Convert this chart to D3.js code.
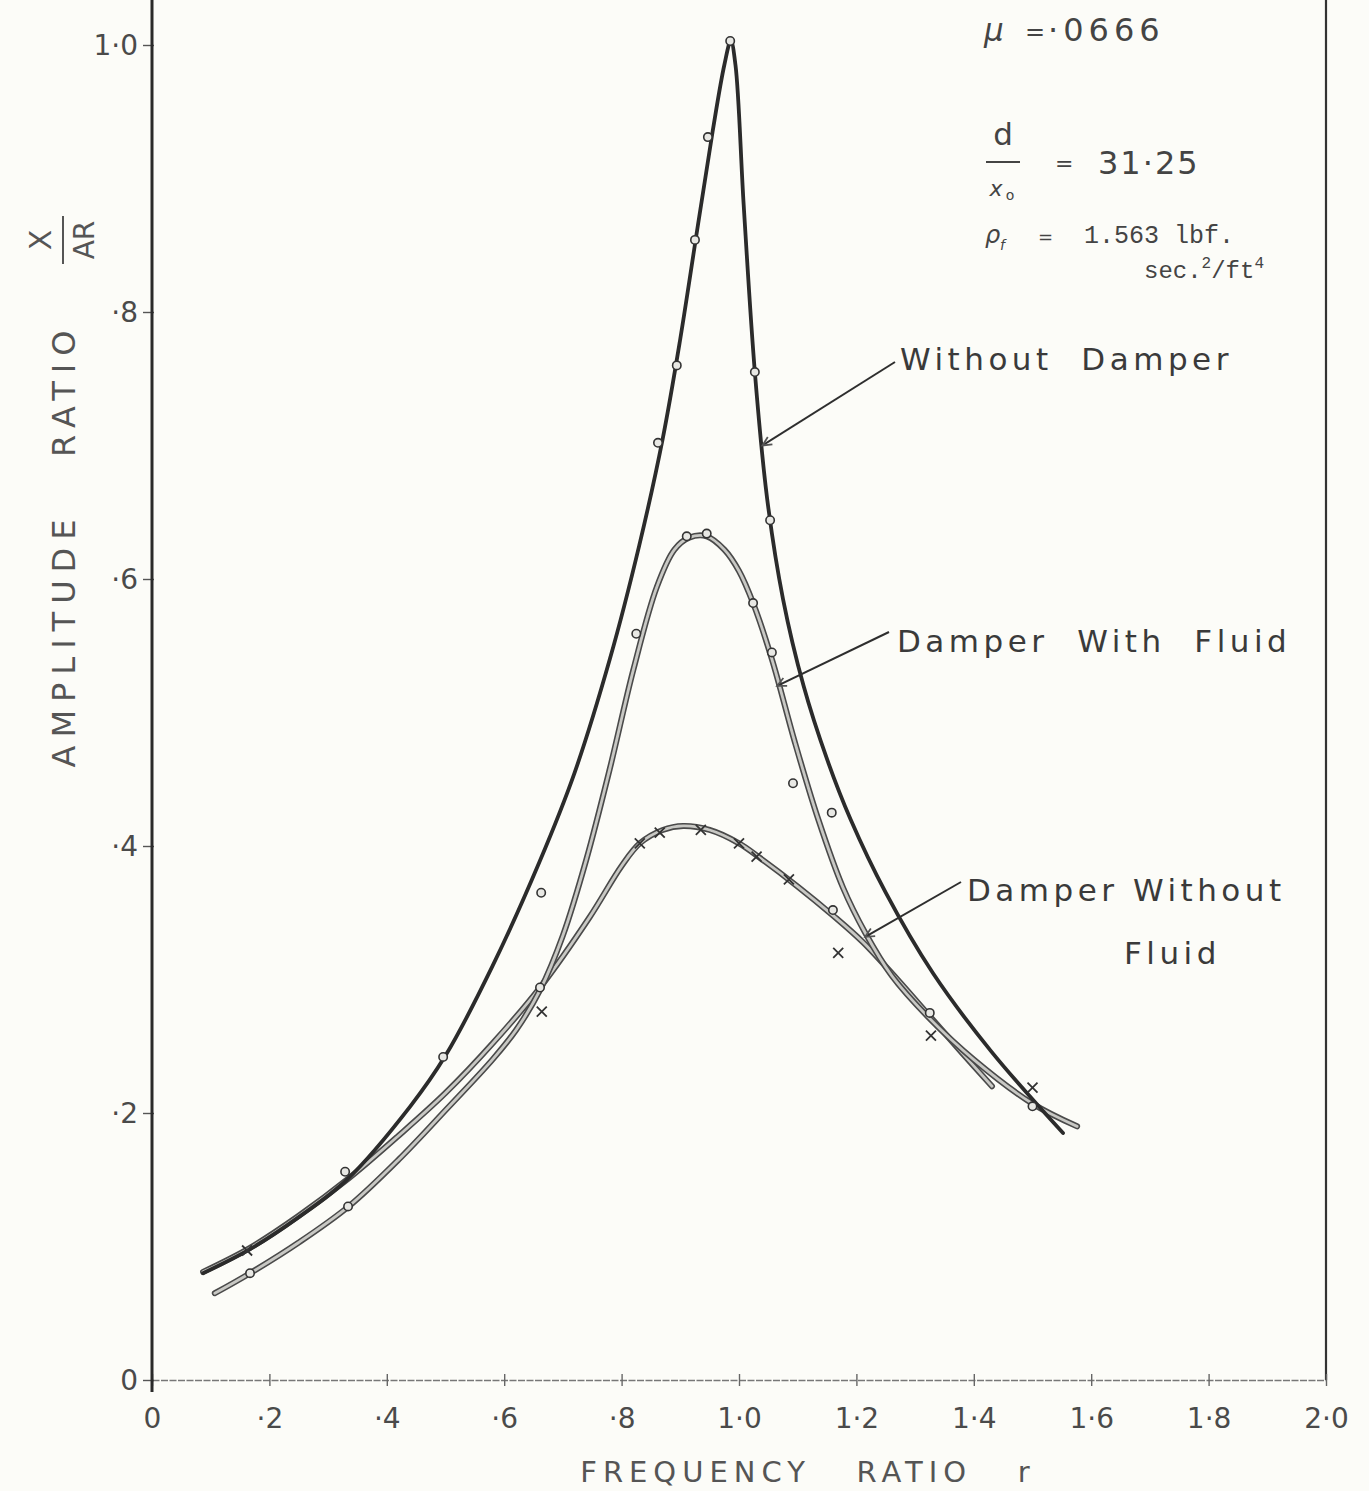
<!DOCTYPE html>
<html>
<head>
<meta charset="utf-8">
<script src="https://cdn.jsdelivr.net/npm/d3@7"></script>
<style>
  html, body { margin: 0; padding: 0; background: #fcfcf8; }
  svg { display: block; }
  text { font-family: "DejaVu Sans", "Noto Sans", sans-serif; fill: #3a3a3a; }
</style>
</head>
<body>
<svg id="chart" width="1369" height="1491"></svg>
<script>
// Frequency ratio r vs amplitude ratio X/A_R for the three test conditions.

const xTicks = [0, 0.2, 0.4, 0.6, 0.8, 1.0, 1.2, 1.4, 1.6, 1.8, 2.0];
const xTickLabels = ["0", "·2", "·4", "·6", "·8", "1·0", "1·2", "1·4", "1·6", "1·8", "2·0"];
const yTicks = [0, 0.2, 0.4, 0.6, 0.8, 1.0];
const yTickLabels = ["0", "·2", "·4", "·6", "·8", "1·0"];

// Faired curves: [r, X/A_R]
const withoutDamper = [
  [0.087, 0.080], [0.167, 0.098], [0.25, 0.122], [0.332, 0.150], [0.44, 0.205],
  [0.50, 0.243], [0.58, 0.310], [0.66, 0.388], [0.72, 0.455], [0.78, 0.540],
  [0.83, 0.625], [0.87, 0.705], [0.90, 0.780], [0.93, 0.865], [0.955, 0.935],
  [0.975, 0.985], [0.986, 1.003], [0.994, 0.985], [1.008, 0.880], [1.027, 0.755],
  [1.048, 0.660], [1.075, 0.585], [1.11, 0.520], [1.15, 0.465], [1.19, 0.420],
  [1.25, 0.365], [1.33, 0.305], [1.43, 0.246], [1.552, 0.185]
];
const damperWithFluid = [
  [0.107, 0.065], [0.167, 0.080], [0.25, 0.103], [0.335, 0.130], [0.42, 0.165],
  [0.502, 0.203], [0.58, 0.240], [0.62, 0.262], [0.661, 0.292], [0.70, 0.333],
  [0.74, 0.390], [0.78, 0.458], [0.82, 0.532], [0.86, 0.594], [0.89, 0.622],
  [0.915, 0.631], [0.945, 0.632], [0.975, 0.622], [1.0, 0.606], [1.024, 0.582],
  [1.056, 0.540], [1.095, 0.478], [1.135, 0.420], [1.177, 0.369], [1.215, 0.335],
  [1.26, 0.303], [1.322, 0.272], [1.40, 0.240], [1.50, 0.207], [1.576, 0.190]
];
const damperWithoutFluid = [
  [0.087, 0.081], [0.167, 0.099], [0.25, 0.123], [0.335, 0.151], [0.42, 0.183],
  [0.50, 0.215], [0.58, 0.252], [0.661, 0.294], [0.746, 0.347], [0.80, 0.385],
  [0.831, 0.402], [0.87, 0.412], [0.905, 0.415], [0.95, 0.412], [1.0, 0.402],
  [1.036, 0.391], [1.099, 0.370], [1.16, 0.348], [1.211, 0.328], [1.27, 0.300],
  [1.322, 0.274], [1.38, 0.245], [1.431, 0.220]
];

// Plotted test points
const ptsWithoutDamper = [
  [0.329, 0.156], [0.496, 0.242], [0.663, 0.365], [0.862, 0.702], [0.894, 0.760],
  [0.925, 0.854], [0.947, 0.931], [0.985, 1.003], [1.027, 0.755], [1.053, 0.644],
  [1.158, 0.425], [1.50, 0.205]
];
const ptsWithFluid = [
  [0.167, 0.080], [0.334, 0.130], [0.661, 0.294], [0.825, 0.559], [0.911, 0.632],
  [0.945, 0.634], [1.024, 0.582], [1.056, 0.545], [1.092, 0.447], [1.16, 0.352],
  [1.325, 0.275]
];
const ptsWithoutFluid = [
  [0.162, 0.097], [0.664, 0.276], [0.831, 0.402], [0.865, 0.410], [0.935, 0.412],
  [1.0, 0.402], [1.03, 0.392], [1.085, 0.375], [1.169, 0.320], [1.327, 0.258],
  [1.50, 0.219]
];

const svg = d3.select("#chart");
const x = d3.scaleLinear().domain([0, 2]).range([152, 1326]);
const y = d3.scaleLinear().domain([0, 1]).range([1380, 45]);

const line = d3.line()
  .x(d => x(d[0])).y(d => y(d[1]))
  .curve(d3.curveCatmullRom.alpha(0.5));

// Frame: left axis, right border, bottom axis
const yTop = y.invert(0);
svg.append("line").attr("x1", x(2)).attr("x2", x(2)).attr("y1", y(yTop)).attr("y2", y(0))
  .attr("stroke", "#333").attr("stroke-width", 2.2);

const xAxis = d3.axisBottom(x).tickValues(xTicks).tickSize(0)
  .tickFormat((d, i) => xTickLabels[i]);
const gx = svg.append("g").attr("transform", `translate(0,${y(0)})`).call(xAxis);
gx.select(".domain").attr("stroke", "#777").attr("stroke-width", 1.6).attr("stroke-dasharray", "7,1.5");
gx.selectAll(".tick text").attr("dy", null).attr("y", 48)
  .style("font-size", "28px").style("fill", "#4a4a4a").attr("font-family", null);
gx.selectAll(".tick").append("line").attr("y1", -6).attr("y2", 6)
  .attr("stroke", "#666").attr("stroke-width", 1.4);

const yAxis = d3.axisLeft(y).tickValues(yTicks).tickSize(0)
  .tickFormat((d, i) => yTickLabels[i]);
const gy = svg.append("g").attr("transform", `translate(${x(0)},0)`).call(yAxis);
gy.select(".domain").remove();
gy.append("line").attr("x1", 0).attr("x2", 0).attr("y1", y(yTop)).attr("y2", y(0) + 12)
  .attr("stroke", "#2a2a2a").attr("stroke-width", 3);
gy.selectAll(".tick text").attr("x", -14).attr("dy", "0.35em")
  .style("font-size", "28px").style("fill", "#4a4a4a").attr("font-family", null);
gy.selectAll(".tick").append("line").attr("x1", -9).attr("x2", 2)
  .attr("stroke", "#555").attr("stroke-width", 1.4);

// Axis titles
svg.append("text").attr("x", 808).attr("y", 1482).attr("text-anchor", "middle")
  .style("font-size", "29px").style("letter-spacing", "6px").style("fill", "#555")
  .attr("xml:space", "preserve").text("FREQUENCY   RATIO   r");

const yt = svg.append("g").attr("transform", "translate(75,545) rotate(-90)");
yt.append("text").attr("text-anchor", "middle")
  .style("font-size", "32px").style("letter-spacing", "8px").style("fill", "#555")
  .attr("xml:space", "preserve").text("AMPLITUDE   RATIO");
const frac = svg.append("g").attr("transform", "translate(63,240) rotate(-90)");
frac.append("text").attr("x", 0).attr("y", -12).attr("text-anchor", "middle")
  .style("font-size", "30px").style("fill", "#555").text("X");
frac.append("line").attr("x1", -24).attr("x2", 24).attr("y1", 0).attr("y2", 0)
  .attr("stroke", "#555").attr("stroke-width", 2);
frac.append("text").attr("x", 0).attr("y", 31).attr("text-anchor", "middle")
  .style("font-size", "28px").style("fill", "#555").text("AR");

// Curves
function pencil(data, dark) {
  if (dark) {
    svg.append("path").datum(data).attr("d", line)
      .attr("fill", "none").attr("stroke", "#2b2b2b").attr("stroke-width", 3.8)
      .attr("stroke-linecap", "round");
  } else {
    svg.append("path").datum(data).attr("d", line)
      .attr("fill", "none").attr("stroke", "#4a4a4a").attr("stroke-width", 6)
      .attr("stroke-linecap", "round");
    svg.append("path").datum(data).attr("d", line)
      .attr("fill", "none").attr("stroke", "#c8c8c4").attr("stroke-width", 2.8)
      .attr("stroke-linecap", "round");
  }
}
pencil(damperWithoutFluid, false);
pencil(damperWithFluid, false);
pencil(withoutDamper, true);

// Test points
function circles(data) {
  svg.append("g").selectAll("circle").data(data).join("circle")
    .attr("cx", d => x(d[0])).attr("cy", d => y(d[1])).attr("r", 4.2)
    .attr("fill", "#e8e8e4").attr("stroke", "#333").attr("stroke-width", 1.6);
}
circles(ptsWithoutDamper);
circles(ptsWithFluid);
svg.append("g").selectAll("path").data(ptsWithoutFluid).join("path")
  .attr("d", d => {
    const cx = x(d[0]), cy = y(d[1]), s = 5;
    return `M${cx - s},${cy - s}L${cx + s},${cy + s}M${cx - s},${cy + s}L${cx + s},${cy - s}`;
  })
  .attr("stroke", "#333").attr("stroke-width", 1.8);

// Curve labels with leaders
function leader(x1, y1, x2, y2) {
  svg.append("line").attr("x1", x1).attr("y1", y1).attr("x2", x2).attr("y2", y2)
    .attr("stroke", "#2e2e2e").attr("stroke-width", 2);
  const a = Math.atan2(y2 - y1, x2 - x1), h = 10;
  svg.append("path")
    .attr("d", `M${x2 - h * Math.cos(a - 0.45)},${y2 - h * Math.sin(a - 0.45)}L${x2},${y2}L${x2 - h * Math.cos(a + 0.45)},${y2 - h * Math.sin(a + 0.45)}`)
    .attr("fill", "none").attr("stroke", "#555").attr("stroke-width", 1.8);
}
const labelStyle = sel => sel.style("font-size", "31px").style("letter-spacing", "4.5px")
  .style("fill", "#3a3a3a").attr("xml:space", "preserve");

leader(895, 362, x(1.04), y(0.7));
svg.append("text").attr("x", 900).attr("y", 370).call(labelStyle).text("Without  Damper");

leader(889, 632, x(1.065), y(0.52));
svg.append("text").attr("x", 897).attr("y", 652).call(labelStyle).text("Damper  With  Fluid");

leader(961, 882, x(1.215), y(0.332));
svg.append("text").attr("x", 967).attr("y", 901).call(labelStyle).text("Damper Without");
svg.append("text").attr("x", 1124).attr("y", 964).call(labelStyle).text("Fluid");

// Test constants
const info = svg.append("g");
info.append("text").attr("x", 984).attr("y", 41).style("font-size", "31px")
  .style("font-style", "italic").style("fill", "#444").text("μ");
info.append("text").attr("x", 1025).attr("y", 40).style("font-size", "24px")
  .style("fill", "#444").text("=");
info.append("text").attr("x", 1048).attr("y", 41).style("font-size", "32px")
  .style("letter-spacing", "5px").style("fill", "#444").text("·0666");

info.append("text").attr("x", 1003).attr("y", 145).attr("text-anchor", "middle")
  .style("font-size", "31px").style("fill", "#444").text("d");
info.append("line").attr("x1", 986).attr("x2", 1020).attr("y1", 162).attr("y2", 162)
  .attr("stroke", "#444").attr("stroke-width", 2);
info.append("text").attr("x", 996).attr("y", 196).attr("text-anchor", "middle")
  .style("font-size", "22px").style("font-style", "italic").style("fill", "#444").text("x");
info.append("text").attr("x", 1010).attr("y", 200).attr("text-anchor", "middle")
  .style("font-size", "14px").style("fill", "#444").text("o");
info.append("text").attr("x", 1055).attr("y", 171).style("font-size", "22px")
  .style("fill", "#444").text("=");
info.append("text").attr("x", 1098).attr("y", 174).style("font-size", "32px")
  .style("letter-spacing", "2px").style("fill", "#444").text("31·25");

info.append("text").attr("x", 985).attr("y", 243).style("font-size", "24px")
  .style("font-style", "italic").style("fill", "#444").text("ρ");
info.append("text").attr("x", 1000).attr("y", 250).style("font-size", "14px")
  .style("font-style", "italic").style("fill", "#444").text("f");
info.append("text").attr("x", 1038).attr("y", 243).style("font-size", "18px")
  .style("fill", "#444").text("=");
info.append("text").attr("x", 1084).attr("y", 243)
  .style("font-family", "'Liberation Mono', 'DejaVu Sans Mono', monospace")
  .style("font-size", "25px").style("fill", "#444").text("1.563 lbf.");
const sec = info.append("text").attr("x", 1144).attr("y", 278)
  .style("font-family", "'Liberation Mono', 'DejaVu Sans Mono', monospace")
  .style("font-size", "24px").style("fill", "#444");
sec.append("tspan").text("sec.");
sec.append("tspan").attr("dy", -10).style("font-size", "16px").text("2");
sec.append("tspan").attr("dy", 10).text("/ft");
sec.append("tspan").attr("dy", -10).style("font-size", "16px").text("4");
</script>
</body>
</html>
